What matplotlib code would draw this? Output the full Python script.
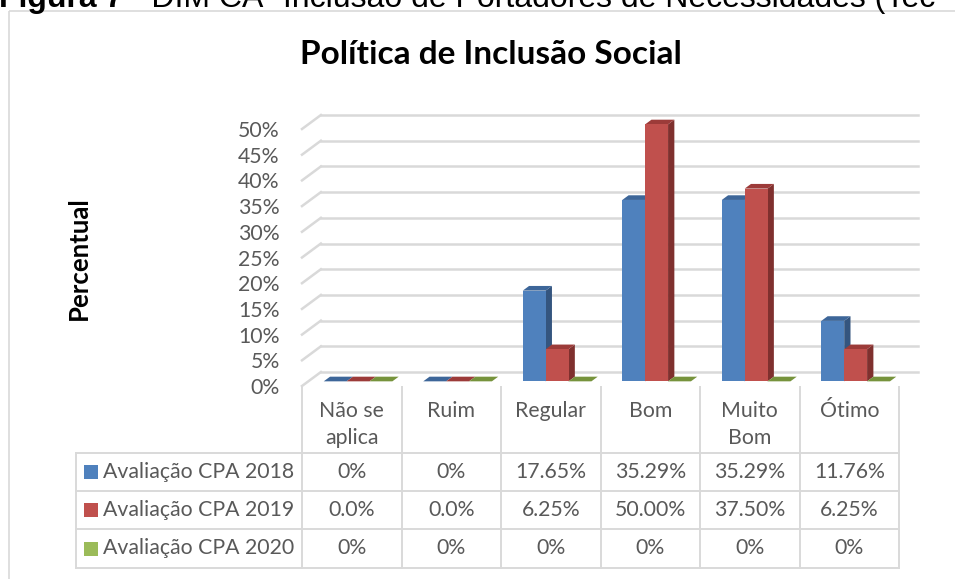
import numpy as np
import matplotlib
matplotlib.use('Agg')
from matplotlib import pyplot as plt
from matplotlib.patches import Polygon, Rectangle

# data
categorias = ['Não se\naplica', 'Ruim', 'Regular', 'Bom', 'Muito\nBom', 'Ótimo']
series = ['Avaliação CPA 2018', 'Avaliação CPA 2019', 'Avaliação CPA 2020']
cpa_2018 = [0, 0, 17.65, 35.29, 35.29, 11.76]
cpa_2019 = [0.0, 0.0, 6.25, 50.00, 37.50, 6.25]
cpa_2020 = [0, 0, 0, 0, 0, 0]
zero_labels = ['0%', '0.0%', '0%']
yticks = [0, 5, 10, 15, 20, 25, 30, 35, 40, 45, 50]

valores = [cpa_2018, cpa_2019, cpa_2020]

# front / side / top colours (excel 2010 style)
cores = [('#4F81BD', '#34557f', '#3d6699'),
         ('#C0504D', '#7f302e', '#9c3b39'),
         ('#9BBB59', '#617a33', '#76933c')]
grid_c = '#d9d9d9'
txt_c = '#595959'
fonte = ['Lato', 'DejaVu Sans']
fs_tab = 15.3

W, H = 955, 579
fig = plt.figure(figsize=(W / 100, H / 100), dpi=100)

# pixel overlay for the frame, table, texts
fx = fig.add_axes([0, 0, 1, 1])
fx.set_xlim(0, W)
fx.set_ylim(H, 0)
fx.axis('off')

# main axes: front plane, x in categories, y in percent
x_left, x_right = 302, 919
y_zero, px_pct = 386, 5.14
xmin, xmax = -0.5, 5.7
ymax = 53
ax = fig.add_axes([x_left / W, 1 - y_zero / H, (x_right - x_left) / W, ymax * px_pct / H])
ax.set_xlim(xmin, xmax)
ax.set_ylim(0, ymax)
for s in ax.spines.values():
    s.set_visible(False)
ax.set_xticks([])
ax.set_yticks(yticks)
ax.set_yticklabels([f'{t}%' for t in yticks], color=txt_c, fontsize=fs_tab, family=fonte)
ax.tick_params(axis='y', length=0, pad=16)
ax.patch.set_alpha(0)

DX, DY = 0.19, 2.72   # shift for full depth
ncat = len(categorias)

# walls gridlines
for t in yticks:
    ax.plot([-0.5 + DX, ncat - 0.5 + DX], [t + DY, t + DY], color=grid_c, lw=1.8, clip_on=False, zorder=1)
    ax.plot([-0.5, -0.5 + DX], [t, t + DY], color=grid_c, lw=1.8, clip_on=False, zorder=1)

# bars
bw = 0.23
d0, d1 = 1 / 3, 2 / 3
z = 3
for i in range(ncat):
    for j in range(len(series)):
        h = valores[j][i]
        x0 = i - 1.5 * bw + j * bw
        x1 = x0 + bw
        fc, sc, tc = cores[j]
        lado = [(x1 + DX * d0, DY * d0), (x1 + DX * d0, h + DY * d0),
                (x1 + DX * d1, h + DY * d1), (x1 + DX * d1, DY * d1)]
        topo = [(x0 + DX * d0, h + DY * d0), (x1 + DX * d0, h + DY * d0),
                (x1 + DX * d1, h + DY * d1), (x0 + DX * d1, h + DY * d1)]
        frente = [(x0 + DX * d0, DY * d0), (x1 + DX * d0, DY * d0),
                  (x1 + DX * d0, h + DY * d0), (x0 + DX * d0, h + DY * d0)]
        if h > 0:
            ax.add_patch(Polygon(lado, closed=True, fc=sc, ec='none', zorder=z, clip_on=False))
        ax.add_patch(Polygon(topo, closed=True, fc=tc, ec='none', zorder=z, clip_on=False))
        if h > 0:
            ax.add_patch(Polygon(frente, closed=True, fc=fc, ec='none', zorder=z, clip_on=False))
        z += 1

# frame
fx.add_patch(Rectangle((9, 11), 1000, 600, fill=False, ec=grid_c, lw=1.2))

# header text (cut at top of the page): size it so '(' lands near x=868
renderer = fig.canvas.get_renderer()
prefixo = 'Figura 7 - DIM CA- Inclusão de Portadores de Necessidades '
teste = fx.text(0, 0, prefixo, fontsize=20, family='Liberation Sans')
larg = teste.get_window_extent(renderer).width
teste.remove()
fs_cab = 20 * 868 / larg
t1 = fx.text(-1, 7, 'Figura 7', fontsize=fs_cab, fontweight='bold', family='Liberation Sans',
             va='baseline', ha='left', color='black')
w1 = t1.get_window_extent(renderer).width
fx.text(-1 + w1, 7, ' - DIM CA- Inclusão de Portadores de Necessidades (Tec', fontsize=fs_cab,
        family='Liberation Sans', va='baseline', ha='left', color='black')

# title and y label
fx.text(491, 55, 'Política de Inclusão Social', fontsize=24, fontweight='bold',
        family=fonte, ha='center', va='center', color='black')
fx.text(79, 258, 'Percentual', fontsize=18.5, fontweight='bold', family=fonte,
        rotation=90, ha='center', va='center', color='black')

# data table
col_w = 99.5
col_x = [x_left + k * col_w for k in range(ncat + 1)]
row_y = [453, 491, 529, 568]
tab_left = 76
lw_t = 1.4
for xv in col_x:
    fx.plot([xv, xv], [y_zero + 1, row_y[-1]], color=grid_c, lw=lw_t)
fx.plot([tab_left, tab_left], [row_y[0], row_y[-1]], color=grid_c, lw=lw_t)
for yv in row_y:
    fx.plot([tab_left, col_x[-1]], [yv, yv], color=grid_c, lw=lw_t)

for i, nome in enumerate(categorias):
    for k, linha in enumerate(nome.split('\n')):
        fx.text(col_x[i] + col_w / 2, 411 + 27 * k, linha, fontsize=fs_tab, family=fonte,
                color=txt_c, ha='center', va='center')

for j, nome in enumerate(series):
    yc = (row_y[j] + row_y[j + 1]) / 2
    fx.add_patch(Rectangle((84, yc - 7), 14, 14, fc=cores[j][0], ec='none'))
    fx.text(103, yc, nome, fontsize=fs_tab, family=fonte, color=txt_c, ha='left', va='center')
    for i in range(ncat):
        v = valores[j][i]
        lab = zero_labels[j] if v == 0 else f'{v:.2f}%'
        fx.text(col_x[i] + col_w / 2, yc, lab, fontsize=fs_tab, family=fonte, color=txt_c,
                ha='center', va='center')

fig.savefig('out.png', dpi=100)
